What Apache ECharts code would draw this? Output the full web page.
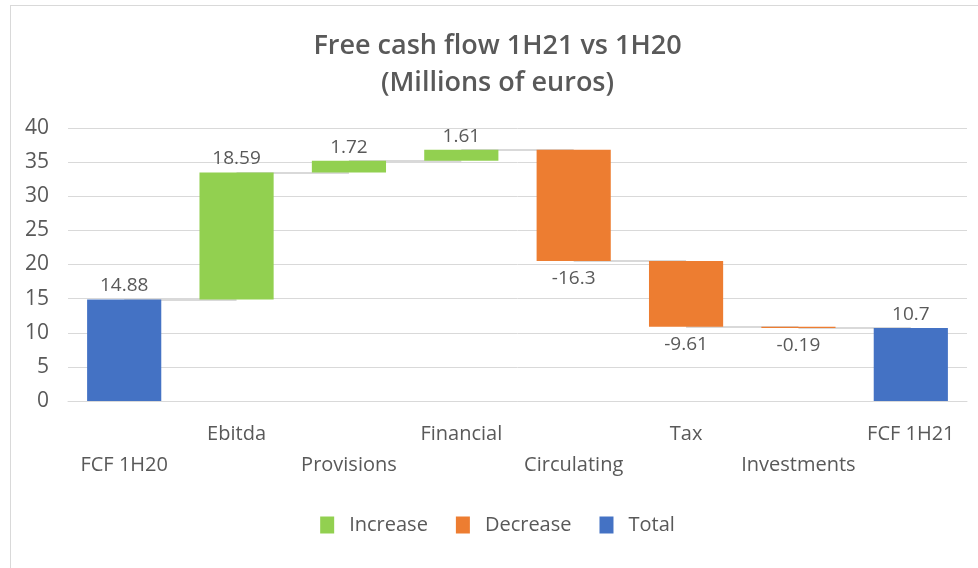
<!DOCTYPE html>
<html>
<head>
<meta charset="utf-8">
<script src="https://cdn.jsdelivr.net/npm/echarts@6/dist/echarts.min.js"></script>
<style>
  body { margin: 0; background: #fff; }
  #main { position: absolute; left: 10px; top: 5px; width: 975px; height: 570px; border: 1px solid #d9d9d9; box-sizing: border-box; }
</style>
</head>
<body>
<div id="main"></div>
<script>
var categories = ['FCF 1H20', 'Ebitda', 'Provisions', 'Financial', 'Circulating', 'Tax', 'Investments', 'FCF 1H21'];
var changes = [14.88, 18.59, 1.72, 1.61, -16.3, -9.61, -0.19, 10.7];
var isTotal = [true, false, false, false, false, false, false, true];
var yTicks = [0, 5, 10, 15, 20, 25, 30, 35, 40];

// build stacked helper / increase / decrease / total columns
var helper = [], inc = [], dec = [], tot = [], levels = [];
var running = 0;
for (var i = 0; i < changes.length; i++) {
    var v = changes[i];
    if (isTotal[i]) {
        helper.push(0); inc.push('-'); dec.push('-'); tot.push(v);
        running = v;
    } else if (v >= 0) {
        helper.push(running); inc.push(v); dec.push('-'); tot.push('-');
        running = running + v;
    } else {
        helper.push(running + v); inc.push('-'); dec.push(-v); tot.push('-');
        running = running + v;
    }
    levels.push(+running.toFixed(2));
}

var connectors = [];
for (var j = 0; j < categories.length - 1; j++) {
    connectors.push([{ coord: [categories[j], levels[j]] }, { coord: [categories[j + 1], levels[j]] }]);
}

var chart = echarts.init(document.getElementById('main'));
var font = '"Open Sans", sans-serif';
var txt = '#595959';

var option = {
    animation: false,
    title: {
        text: 'Free cash flow 1H21 vs 1H20\n(Millions of euros)',
        left: 'center',
        top: 17,
        textStyle: { fontFamily: font, fontSize: 27, fontWeight: 600, color: txt, lineHeight: 37 }
    },
    legend: {
        bottom: 34,
        left: 'center',
        data: ['Increase', 'Decrease', 'Total'],
        itemWidth: 14,
        itemHeight: 17,
        itemGap: 28,
        icon: 'rect',
        textStyle: { fontFamily: font, fontSize: 20, color: txt, padding: [0, 0, 0, 10] }
    },
    grid: { left: 57, right: 17, top: 122, bottom: 173 },
    xAxis: {
        type: 'category',
        data: categories,
        axisLine: { show: true, lineStyle: { color: '#d9d9d9', width: 1 } },
        axisTick: { show: false },
        axisLabel: {
            interval: 0,
            margin: 18,
            fontFamily: font,
            fontSize: 20,
            color: txt,
            lineHeight: 31,
            formatter: function (val, idx) { return idx % 2 ? val : '\n' + val; }
        }
    },
    yAxis: {
        type: 'value',
        min: yTicks[0],
        max: yTicks[yTicks.length - 1],
        interval: 5,
        axisLine: { show: false },
        axisTick: { show: false },
        splitLine: { lineStyle: { color: '#d9d9d9', width: 1 } },
        axisLabel: { fontFamily: font, fontSize: 21, color: txt, margin: 19 }
    },
    series: [
        {
            name: 'helper',
            type: 'bar',
            stack: 'wf',
            barWidth: '66%',
            itemStyle: { color: 'transparent' },
            data: helper,
            z: 1,
            markLine: {
                silent: true,
                z: 1,
                symbol: 'none',
                label: { show: false },
                lineStyle: { color: '#d9d9d9', width: 2, type: 'solid' },
                data: connectors
            }
        },
        {
            name: 'Increase',
            type: 'bar',
            stack: 'wf',
            z: 3,
            itemStyle: { color: '#92D050' },
            label: { show: true, position: 'top', distance: 4, fontFamily: font, fontSize: 19, color: txt },
            data: inc
        },
        {
            name: 'Decrease',
            type: 'bar',
            stack: 'wf',
            z: 3,
            itemStyle: { color: '#ED7D31' },
            label: {
                show: true, position: 'bottom', distance: 8, fontFamily: font, fontSize: 19, color: txt,
                formatter: function (p) { return String(changes[p.dataIndex]); }
            },
            data: dec
        },
        {
            name: 'Total',
            type: 'bar',
            stack: 'wf',
            z: 3,
            itemStyle: { color: '#4472C4' },
            label: { show: true, position: 'top', distance: 4, fontFamily: font, fontSize: 19, color: txt },
            data: tot
        }
    ]
};
chart.setOption(option);
</script>
</body>
</html>
